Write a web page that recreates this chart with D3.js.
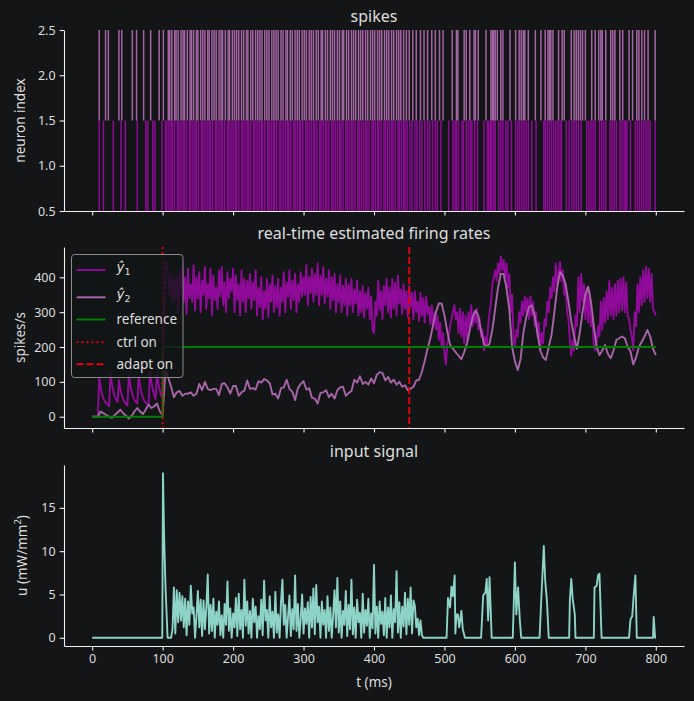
<!DOCTYPE html>
<html><head><meta charset="utf-8">
<script src="https://cdn.jsdelivr.net/npm/d3@7"></script>
<style>
html,body{margin:0;padding:0;background:#131516;}
svg{display:block;}
text{font-family:"Noto Sans",sans-serif;}
</style></head><body>
<svg id="chart" width="694" height="701"></svg>
<script>
// ---------------- DATA ----------------
const timeTicks = [0,100,200,300,400,500,600,700,800];
const spikeTicks = [0.5,1.0,1.5,2.0,2.5];
const rateTicks = [0,100,200,300,400];
const uTicks = [0,5,10,15];

// spike times (ms)
const spikesN1 = [10,16,30,41,47,64,76,79,86,89,99,
104,106,109,112,114,117,121,123,126,129,131,134,138,140,143,146,148,151,155,157,160,163,166,168,171,175,177,180,183,185,188,192,194,197,200,203,205,208,212,214,217,220,222,225,229,231,234,237,240,242,245,249,251,254,257,259,262,266,268,271,274,277,279,282,286,288,291,294,296,299,303,305,308,311,314,316,319,323,325,328,331,333,336,340,342,345,348,351,353,356,360,362,365,368,370,373,377,379,382,385,388,390,393,397,399,402,405,407,410,414,416,419,422,425,427,430,434,436,439,442,444,447,451,454,458,461,465,468,472,476,479,483,487,490,
495,506,512,515,517,520,525,527,531,534,537,539,543,547,556,561,563,565,567,570,572,577,580,583,587,590,595,601,604,607,610,613,616,619,624,630,641,643,646,649,652,655,658,661,664,666,673,677,681,684,687,690,694,702,705,708,711,714,720,723,726,729,735,738,741,744,749,752,755,757,759,764,771,774,777,780,783,786,789,792,799];
const spikesN2 = [10,19,23,38,42,57,63,73,83,95,101,
108,110,113,117,119,122,126,129,131,135,139,141,144,148,150,154,157,160,164,166,170,173,176,180,183,185,189,193,195,199,202,205,208,212,215,219,221,225,228,232,235,238,241,245,248,251,255,258,261,264,268,271,275,277,281,284,288,291,294,298,301,304,308,311,314,318,321,325,327,331,334,338,341,344,348,351,355,357,361,364,368,371,374,378,381,384,388,391,395,398,401,405,408,411,415,418,421,425,428,432,435,438,442,446,450,455,460,466,471,476,482,487,
493,498,511,517,519,528,531,536,542,544,548,559,566,568,570,572,575,580,583,593,601,606,609,612,614,619,629,637,643,647,649,651,654,662,667,670,680,684,687,690,693,696,700,709,714,719,722,724,729,736,739,742,749,753,762,767,773,776,780,784,789,799];

// estimated rate y1, sampled every 2 ms from t = 0 to 800
const y1StepMs = 2;
const y1Hat = [0,0,0,0,0,110,85,65,52,44,38,34,30,125,95,72,58,48,42,105,80,62,50,42,36,32,
120,92,72,58,48,42,38,115,88,68,55,46,40,36,34,130,100,78,62,50,125,95,75,60,55,
300,445,430,400,350,410,330,395,335,405,
300,420,350,440,330,400,295,425,340,380,
330,435,305,400,340,415,300,390,350,430,
310,380,340,425,290,405,335,370,310,420,
345,430,320,385,300,415,340,395,360,425,
300,405,335,380,290,420,330,395,300,390,
340,410,310,385,335,420,290,370,315,400,
280,360,310,395,285,380,330,405,300,375,
315,395,290,370,330,415,300,385,345,420,
310,390,335,410,300,380,330,415,345,400,
350,435,320,400,355,425,330,410,350,440,
320,405,350,430,325,395,345,420,310,400,
335,410,300,380,330,405,300,375,320,395,
290,380,320,395,300,365,325,390,290,360,
300,375,285,355,310,370,280,345,250,240,
330,290,390,305,360,280,375,320,395,300,
370,285,395,310,385,290,405,325,365,295,
380,310,360,285,375,315,355,280,360,300,
330,275,355,290,340,270,345,295,315,265,
320,260,300,250,290,220,270,200,240,180,
150,210,230,260,280,300,320,280,300,240,
310,230,300,210,290,220,300,250,320,260,
300,270,310,250,280,230,250,190,230,200,
260,300,330,380,400,420,390,440,410,460,
420,450,400,440,370,410,300,350,230,200,
250,230,300,270,330,290,345,300,340,280,
345,290,330,260,300,230,270,190,240,210,
280,260,330,300,370,340,400,360,440,380,
410,445,390,420,350,380,300,280,220,175,
220,190,290,260,400,300,410,330,380,280,
370,270,360,260,290,200,190,210,260,230,
330,250,340,270,360,280,390,290,370,280,
380,290,390,300,395,305,400,300,385,290,
280,250,230,190,300,260,380,300,400,320,
420,330,430,340,425,330,410,310,300,290];
// estimated rate y2, sampled every 4 ms from t = 0 to 800
const y2StepMs = 4;
const y2Hat = [0,0,0,15,10,5,0,-3,5,12,20,10,3,-5,2,15,25,15,8,20,35,25,30,38,15,5,
130,112,86,56,70,74,60,66,66,70,60,66,94,76,100,80,76,80,80,62,94,96,84,66,88,
88,60,70,75,104,80,82,78,102,98,
108,104,96,64,66,52,82,84,106,80,
72,48,82,94,102,78,82,54,52,38,
68,70,76,56,66,52,76,84,86,60,
68,74,106,98,116,94,100,92,110,96,
120,128,126,104,114,98,106,92,100,86,
90,76,80,86,104,106,129,160,195,225,
265,300,325,325,290,245,206,195,185,175,
165,185,210,250,285,305,290,245,210,200,
210,250,310,370,410,410,370,310,200,160,
134,165,240,285,315,320,290,240,190,170,
163,200,235,300,370,415,405,380,330,273,
230,195,240,300,350,373,330,260,200,177,
190,206,180,168,190,220,225,230,225,200,
187,150,170,200,215,230,249,230,195,177];

const refT = [0,100,100,800];
const refV = [0,0,200,200];
const ctrlOnMs = 100;
const adaptOnMs = 450;

// input signal u (mW/mm^2)
const uPreT = [0,99.5,100.5,102,104,107,110];
const uPreV = [0,0,19,12,6,0,0];
const uNoiseStartMs = 112, uNoiseStepMs = 2;
const uNoise = [0,1,5.8,0.5,5.5,1.8,5.2,2,4.8,1.2,
4.5,0.3,4.2,1.5,6.0,2.8,3.5,0,2.5,5.4,
1.2,4.4,0.2,4.3,1,3.5,7.3,0.5,3.8,0.8,
4.5,0,3,1.5,4.2,0.3,2.6,0,3.9,1.5,
6.5,0.8,3.4,0,2.8,1.2,4.6,0.2,5.1,1,
3.2,0,6.7,1.4,4.2,0.5,3.1,0,4.5,1.8,
3.6,0,2.5,1,4.4,0.3,6.6,2,3.2,0,
4.8,1.2,3,0,5.3,0.6,2.7,0,4.1,6.7,
1.5,3.8,0,2.4,4.9,0.2,3.3,1,7.2,0.8,
3.9,0,2.2,5,0.5,3.4,1.6,4.1,0,4.7,
1.2,5.7,0.4,6.1,1.8,3.6,0,4.2,1.5,3.2,
0,4.8,0.8,3.5,0,2.6,5.5,1.2,6.9,0.6,
4.2,0,3.1,1.5,5.4,0.2,3.8,1,6.7,0.4,
3.5,0,4.4,1.8,2.9,0,5.1,0.6,3.2,1.4,
4.5,0,2.8,1.1,8.4,0.5,3.6,0,4.2,1.6,
3,0.3,4.6,0,3.5,1.2,4.9,0,3.3,1.8,
7.7,0.6,4.1,0,3.6,1.3,5.2,0.4,4.5,1.5,
5.8,0.5,4.3,3.7,1.2,2.2,0.3,2,0.3,0];
const uPostT = [503,505,508,510,512,514.5,515.5,517,519,521,524,526,529,
552,555,558,560,562,564,567,
597,600,602,604.5,607,609,
635,637,641,643,645.5,648,
677,678,680,682,685,686,
712,713,716,718,720,723,
762,764,766.5,768.5,771,773,
796,797,799,800];
const uPostV = [0,4.6,3.5,5.9,4.8,7.2,0.5,2.7,2.7,1.2,3.1,1,0,
0,4.9,5.2,6.8,2,7.0,0,
0,8.7,2.7,5.8,2.0,0,
0,3.7,10.6,6.6,4.2,0,
0,4.3,6.8,4.5,2.7,0,
0,5.8,6.0,7.2,7.4,0,
0,2.1,2.5,4.8,7.2,0,
0,2.4,0,0];

// ---------------- STYLE ----------------
const BG = '#131516', FG = '#dedede', SPINE = '#f2f2f2';
const C_Y1 = '#910b9b', C_Y2 = '#a865a8', C_N1 = '#900a9a', C_N2 = '#a565a5';
const C_REF = '#008000', C_RED = '#e8000b', C_U = '#8dd3c7';
const TICK_FS = '12.5px', LABEL_FS = '13.5px', TITLE_FS = '16px';

const svg = d3.select('#chart');
svg.append('rect').attr('width',694).attr('height',701).attr('fill',BG);

const x = d3.scaleLinear().domain([-40,840]).range([64,684]);
const ySp = d3.scaleLinear().domain([0.5,2.5]).range([211,30]);
const yR = d3.scaleLinear().domain([-32.4,487]).range([428,247]);
const yU = d3.scaleLinear().domain([-0.95,19.95]).range([646,465]);

function styleAxis(g){
  g.selectAll('.domain').attr('stroke',SPINE).attr('stroke-width',1.1);
  g.selectAll('.tick line').attr('stroke',SPINE).attr('stroke-width',1.1);
  g.selectAll('.tick text').attr('fill',FG).style('font-size',TICK_FS).style('font-family','"Noto Sans",sans-serif');
}
function xAxis(yPix, labels){
  const ax = d3.axisBottom(x).tickValues(timeTicks).tickSize(4.4).tickPadding(4).tickSizeOuter(0);
  if(!labels) ax.tickFormat('');
  const g = svg.append('g').attr('transform',`translate(0,${yPix})`).call(ax);
  styleAxis(g);
}
function yAxis(scale, ticks, fmt){
  const g = svg.append('g').attr('transform','translate(64,0)')
    .call(d3.axisLeft(scale).tickValues(ticks).tickFormat(fmt).tickSize(4.4).tickPadding(4).tickSizeOuter(0));
  styleAxis(g);
}
function title(txt, yb){
  svg.append('text').attr('x',374).attr('y',yb).attr('text-anchor','middle')
    .attr('fill',FG).style('font-size',TITLE_FS).text(txt);
}
function ylabel(txt, cx, cy){
  return svg.append('text').attr('transform',`translate(${cx},${cy}) rotate(-90)`)
    .attr('text-anchor','middle').attr('dominant-baseline','central')
    .attr('fill',FG).style('font-size',LABEL_FS).text(txt);
}

// ---------------- PANEL 1: spikes ----------------
const gSp = svg.append('g');
gSp.selectAll('line.n1').data(spikesN1).join('line')
  .attr('x1',d=>x(d)).attr('x2',d=>x(d)).attr('y1',ySp(0.5)).attr('y2',ySp(1.5))
  .attr('stroke',C_N1).attr('stroke-width',1.5);
gSp.selectAll('line.n2').data(spikesN2).join('line')
  .attr('x1',d=>x(d)).attr('x2',d=>x(d)).attr('y1',ySp(1.5)).attr('y2',ySp(2.5))
  .attr('stroke',C_N2).attr('stroke-width',1.5);
xAxis(211,false);
yAxis(ySp, spikeTicks, d3.format('.1f'));
title('spikes', 21.5);
ylabel('neuron index', 20, 120.5);

// ---------------- PANEL 2: rates ----------------
const line = d3.line();
svg.append('path').attr('d', line(y1Hat.map((v,i)=>[x(i*y1StepMs), yR(v)])))
  .attr('fill','none').attr('stroke',C_Y1).attr('stroke-width',1.9).attr('stroke-linejoin','round');
svg.append('path').attr('d', line(y2Hat.map((v,i)=>[x(i*y2StepMs), yR(v)])))
  .attr('fill','none').attr('stroke',C_Y2).attr('stroke-width',1.9).attr('stroke-linejoin','round');
svg.append('path').attr('d', line(refT.map((t,i)=>[x(t), yR(refV[i])])))
  .attr('fill','none').attr('stroke',C_REF).attr('stroke-width',1.9);
svg.append('line').attr('x1',x(ctrlOnMs)).attr('x2',x(ctrlOnMs)).attr('y1',247).attr('y2',428)
  .attr('stroke',C_RED).attr('stroke-width',1.9).attr('stroke-dasharray','1.9 3.1');
svg.append('line').attr('x1',x(adaptOnMs)).attr('x2',x(adaptOnMs)).attr('y1',247).attr('y2',428)
  .attr('stroke',C_RED).attr('stroke-width',1.9).attr('stroke-dasharray','7 3');
xAxis(428,false);
yAxis(yR, rateTicks, d3.format('d'));
title('real-time estimated firing rates', 239);
ylabel('spikes/s', 20, 337.5);

// legend
const lg = svg.append('g');
lg.append('rect').attr('x',71.5).attr('y',254.5).attr('width',111.5).attr('height',123)
  .attr('rx',3).attr('fill',BG).attr('fill-opacity',0.8).attr('stroke','#8a8a8a').attr('stroke-width',1);
const legendItems = [
  {lab:'y1', color:C_Y1, dash:null, y:270},
  {lab:'y2', color:C_Y2, dash:null, y:297.3},
  {lab:'reference', color:C_REF, dash:null, y:319.5},
  {lab:'ctrl on', color:C_RED, dash:'1.9 3.1', y:342.3},
  {lab:'adapt on', color:C_RED, dash:'7 3', y:364.2}
];
legendItems.forEach(it=>{
  const l = lg.append('line').attr('x1',76.5).attr('x2',105.5).attr('y1',it.y).attr('y2',it.y)
    .attr('stroke',it.color).attr('stroke-width',1.9);
  if(it.dash) l.attr('stroke-dasharray',it.dash);
  if(it.lab==='y1' || it.lab==='y2'){
    const t = lg.append('text').attr('x',116.5).attr('y',it.y+2).attr('fill',FG).style('font-size','13.5px');
    t.append('tspan').style('font-family','"DejaVu Sans",sans-serif').style('font-style','italic').text('\u0177');
    t.append('tspan').attr('dy',3).style('font-size','9.5px').style('font-family','"DejaVu Sans",sans-serif').text(it.lab.slice(1));
  } else {
    lg.append('text').attr('x',116.5).attr('y',it.y+4.8).attr('fill',FG).style('font-size',LABEL_FS).text(it.lab);
  }
});

// ---------------- PANEL 3: input ----------------
const uPts = [];
uPreT.forEach((t,i)=>uPts.push([t,uPreV[i]]));
uNoise.forEach((v,i)=>uPts.push([uNoiseStartMs+i*uNoiseStepMs, v]));
uPostT.forEach((t,i)=>uPts.push([t,uPostV[i]]));
svg.append('path').attr('d', line(uPts.map(p=>[x(p[0]), yU(p[1])])))
  .attr('fill','none').attr('stroke',C_U).attr('stroke-width',1.9).attr('stroke-linejoin','round');
xAxis(646,true);
yAxis(yU, uTicks, d3.format('d'));
title('input signal', 456.5);
const ul = ylabel('', 22, 555.5);
ul.append('tspan').text('u (mW/mm');
ul.append('tspan').attr('dy',-5).style('font-size','9.5px').text('2');
ul.append('tspan').attr('dy',5).text(')');
svg.append('text').attr('x',374).attr('y',687).attr('text-anchor','middle').attr('fill',FG)
  .style('font-size',LABEL_FS).text('t (ms)');
</script>
</body></html>
